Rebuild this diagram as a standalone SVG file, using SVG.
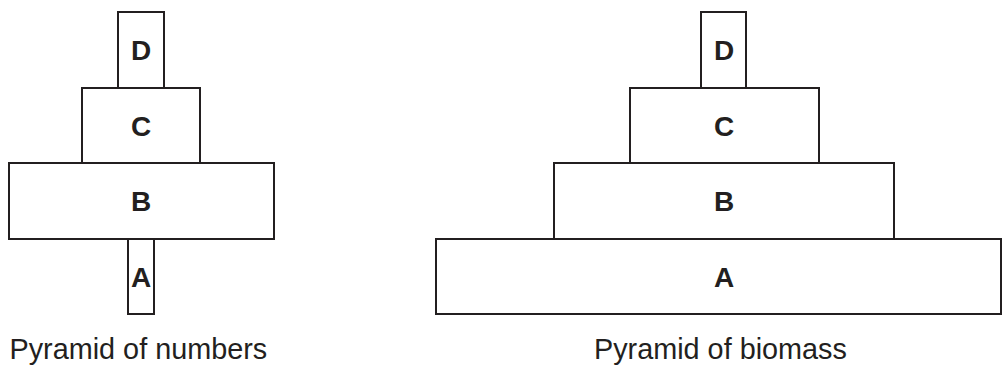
<svg xmlns="http://www.w3.org/2000/svg" width="1003" height="367" viewBox="0 0 1003 367">
<style>
.box{fill:#fff;stroke:#231f20;stroke-width:2}
.lbl{font-family:"Liberation Sans",Arial,sans-serif;font-weight:bold;font-size:28px;fill:#231f20;text-anchor:middle}
.cap{font-family:"Liberation Sans",Arial,sans-serif;font-size:28.8px;fill:#231f20}
</style>
<rect width="1003" height="367" fill="#fff"/>
<g id="numbers">
<g id="n-D"><rect class="box" x="118" y="12" width="46" height="76"/><text class="lbl" x="141" y="60">D</text></g>
<g id="n-C"><rect class="box" x="82" y="88" width="118" height="75"/><text class="lbl" x="141" y="135.5">C</text></g>
<g id="n-B"><rect class="box" x="9" y="163" width="265" height="76"/><text class="lbl" x="141" y="210.5">B</text></g>
<g id="n-A"><rect class="box" x="128" y="239" width="26" height="75"/><text class="lbl" x="141" y="287">A</text></g>
<text id="cap-numbers" class="cap" x="9.5" y="359">Pyramid of numbers</text>
</g>
<g id="biomass">
<g id="b-D"><rect class="box" x="701" y="12" width="45" height="76"/><text class="lbl" x="724" y="60">D</text></g>
<g id="b-C"><rect class="box" x="630" y="88" width="189" height="75"/><text class="lbl" x="724" y="135.5">C</text></g>
<g id="b-B"><rect class="box" x="554" y="163" width="340" height="76"/><text class="lbl" x="724" y="210.5">B</text></g>
<g id="b-A"><rect class="box" x="436" y="239" width="565" height="75"/><text class="lbl" x="724" y="287">A</text></g>
<text id="cap-biomass" class="cap" x="594" y="359">Pyramid of biomass</text>
</g>
<g id="connectors"/>
</svg>
